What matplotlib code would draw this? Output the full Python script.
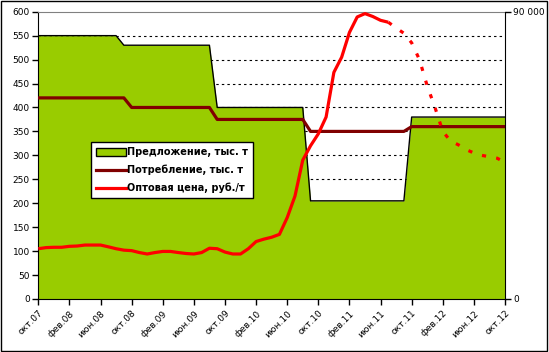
import numpy as np
import matplotlib.pyplot as plt
from matplotlib.patches import Rectangle
from matplotlib.lines import Line2D
from matplotlib.patches import Patch

plt.rcParams['font.family'] = ['DejaVu Sans']

# monthly, окт.07 .. окт.12
tick_labels = ['окт.07', 'фев.08', 'июн.08', 'окт.08', 'фев.09', 'июн.09',
               'окт.09', 'фев.10', 'июн.10', 'окт.10', 'фев.11', 'июн.11',
               'окт.11', 'фев.12', 'июн.12', 'окт.12']

# supply, thousand t
supply = [550] * 11 + [530] * 12 + [400] * 12 + [205] * 13 + [380] * 13
# consumption, thousand t
consumption = [420] * 12 + [400] * 11 + [375] * 12 + [350] * 13 + [360] * 13
# wholesale price, rub/t (actual)
price_fact = [15750, 16100, 16200, 16200, 16500, 16600, 16900, 16900, 16900,
              16350, 15750, 15300, 15150, 14550, 14100, 14550, 14900, 14900,
              14550, 14250, 14100, 14550, 15900, 15750, 14700, 14100, 14100,
              15750, 18000, 18750, 19350, 20250, 25500, 32250, 43500, 48000,
              51750, 57000, 71000, 75750, 83500, 88350, 89400, 88500, 87300,
              86700]
# wholesale price, rub/t (forecast, from the last actual month)
price_fcst = [86700, 84900, 83250, 80250, 75000, 66750, 60000, 52500, 49500,
              48300, 46800, 45750, 45000, 44550, 44100, 42750]

x = np.arange(len(supply))
x_fact = np.arange(len(price_fact))
x_fcst = np.arange(len(price_fact) - 1, len(price_fact) - 1 + len(price_fcst))

fig = plt.figure(figsize=(5.49, 3.52), dpi=100)
ax = fig.add_axes([38.3 / 549, 1 - 299 / 352, (505 - 38.3) / 549, (299 - 11.7) / 352])

ax.set_xlim(0, len(supply) - 1)
ax.set_ylim(0, 600)
for g in range(50, 600, 50):
    ax.axhline(g, color='black', lw=0.8, ls=(0, (2.2, 2.8)), zorder=1)

ax.fill_between(x, supply, color='#99CC00', zorder=2, lw=0)
ax.plot(x, supply, color='black', lw=1, zorder=3)
ax.plot(x, consumption, color='#800000', lw=2.3, zorder=4)

ax.set_yticks(range(0, 601, 50))
ax.set_xticks(range(0, len(supply), 4))
ax.set_xticklabels(tick_labels, rotation=45, ha='right', va='top',
                   rotation_mode='anchor')
ax.tick_params(axis='both', labelsize=6.5, length=4, width=1, pad=2)
ax.tick_params(axis='x', pad=3)
for s in ['left', 'bottom']:
    ax.spines[s].set_color('black')
ax.spines['top'].set_color('#808080')
ax.spines['right'].set_visible(False)

ax2 = ax.twinx()
ax2.set_ylim(0, 90000)
ax2.plot(x_fact, price_fact, color='red', lw=2.3, solid_capstyle='butt')
ax2.plot(x_fcst, price_fcst, color='red', lw=2.3, dashes=(1.3, 3.2))
ax2.set_yticks([0, 90000])
ax2.set_yticklabels(['0', '90 000'])
ax2.tick_params(axis='y', labelsize=6.5, length=4, width=1, pad=2)
ax2.spines['right'].set_color('black')
ax2.spines['top'].set_visible(False)
ax2.spines['left'].set_visible(False)
ax2.spines['bottom'].set_visible(False)

handles = [Patch(facecolor='#99CC00', edgecolor='black', lw=1),
           Line2D([], [], color='#800000', lw=2.3),
           Line2D([], [], color='red', lw=2.3)]
labels = ['Предложение, тыс. т', 'Потребление, тыс. т', 'Оптовая цена, руб./т']
leg = ax2.legend(handles, labels, loc='upper left', bbox_to_anchor=(0.113, 0.545),
                 borderaxespad=0, fancybox=False, framealpha=1, edgecolor='black',
                 prop={'family': 'DejaVu Sans', 'weight': 'bold', 'size': 7.0},
                 handlelength=3.1, handleheight=0.8, handletextpad=0.15,
                 labelspacing=0.78, borderpad=0.5)
leg.get_frame().set_linewidth(1)

fig.patches.append(Rectangle((0.002, 0.003), 0.995, 0.993, transform=fig.transFigure,
                             fill=False, edgecolor='black', lw=1))

fig.savefig('out.png', dpi=100)
